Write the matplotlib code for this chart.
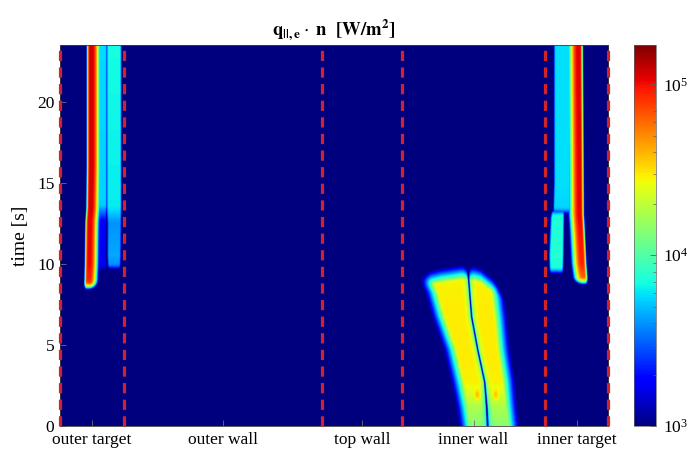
import numpy as np
import matplotlib
matplotlib.use("Agg")
import matplotlib.pyplot as plt
from matplotlib.colors import LogNorm
from matplotlib.ticker import LogLocator, NullFormatter

plt.rcParams['font.family'] = ['Liberation Serif', 'DejaVu Serif']
plt.rcParams['mathtext.fontset'] = 'stix'

# ---------------------------------------------------------------- data
# wall segments along the poloidal contour (cell index)
segment_edges = [0, 64, 262, 342, 485, 548]
segment_names = ["outer target", "outer wall", "top wall", "inner wall", "inner target"]
t_max = 23.5
time_ticks = [0, 5, 10, 15, 20]
q_min, q_max = 1e3, 1.7e5

# outer target strike point: centre cell and log10(q) vs time
ot_peak_t = [8.4, 9.0, 10.0, 12.0, 12.6, 13.4, 16.0, 23.5]
ot_peak_s = [27.5, 28.3, 28.8, 29.2, 29.4, 30.3, 30.8, 30.8]
ot_peak_log = [4.7, 4.95, 5.02, 5.03, 5.03, 5.06, 5.07, 5.07]

# outer target: region between strike point and far SOL lobe
ot_mid_t = [9.3, 12.6, 13.6, 23.5]
ot_mid_left = [35.0, 35.0, 35.0, 35.0]
ot_mid_right = [48.0, 48.0, 48.0, 48.0]
ot_mid_log = [3.2, 3.25, 3.74, 3.76]

# outer target: far SOL lobe
ot_lobe_t = [9.4, 10.5, 12.5, 13.5, 23.5]
ot_lobe_left = [46.0, 45.5, 45.5, 45.0, 45.0]
ot_lobe_right = [61.5, 62.0, 62.5, 62.5, 62.5]
ot_lobe_log = [3.55, 3.65, 3.6, 3.8, 3.84]

# inner target strike point
it_peak_t = [8.7, 10.0, 12.0, 13.0, 23.5]
it_peak_s = [523.5, 521.5, 520.0, 519.0, 518.0]
it_peak_log = [4.7, 4.95, 5.0, 5.03, 5.05]

# inner target: private-flux side finger (early phase)
it_finger_t = [9.2, 10.5, 12.8, 13.5]
it_finger_left = [487.5, 487.0, 488.5, 490.0]
it_finger_right = [503.5, 504.0, 504.5, 505.0]
it_finger_log = [3.84, 3.88, 3.86, 3.8]

# inner target: broad lobe (late phase)
it_lobe_t = [12.8, 15.0, 23.5]
it_lobe_left = [491.0, 492.0, 492.0]
it_lobe_right = [511.0, 511.0, 511.0]
it_lobe_log = [3.74, 3.77, 3.77]

# inner wall: blob boundaries, separatrix trace and level vs time
iw_t = [0.0, 1.2, 2.7, 4.7, 6.7, 8.2, 9.0, 9.9]
iw_left = [395.0, 393.0, 390.0, 382.5, 371.0, 364.0, 358.0, 357.0]
iw_center = [427.0, 426.0, 424.0, 417.0, 411.0, 409.0, 408.0, 407.0]
iw_right = [462.0, 459.0, 455.0, 450.0, 447.0, 444.0, 444.0, 444.0]
iw_log = [4.15, 4.25, 4.46, 4.47, 4.47, 4.46, 4.45, 4.45]
# upper edge of the inner wall blob vs cell
iw_top_s = [358.0, 380.0, 407.0, 420.0, 430.0, 444.0, 450.0]
iw_top_t = [9.4, 9.75, 10.0, 9.75, 9.25, 8.5, 8.0]
# local maxima near the bottom of the inner wall blob
iw_spot_s = [416.7, 435.0]
iw_spot_t = [1.9, 1.9]
iw_spot_log = [4.68, 4.66]

# ---------------------------------------------------------------- field
s = np.arange(0, segment_edges[-1] + 0.25, 0.25)
t = np.arange(0, t_max + 0.02, 0.02)
S, T = np.meshgrid(s, t)
tc = t[:, None]


def band(t_pts, left_pts, right_pts, log_pts, e_left, e_right,
         t_start, t_edge, top=None, power=2.0):
    """log10(q) of a flat-topped strip whose visible edges are left/right."""
    left = np.interp(tc, t_pts, left_pts)
    right = np.interp(tc, t_pts, right_pts)
    level = np.interp(tc, t_pts, log_pts)
    a_l = np.clip((left - S + e_left) / e_left, 0, None)
    a_r = np.clip((S - right + e_right) / e_right, 0, None)
    a_s = np.maximum(a_l, a_r)
    a_b = np.clip((t_start - T + t_edge) / t_edge, 0, None)
    a2 = a_s ** 2 + a_b ** 2
    if top is not None:
        t_top, top_edge = top
        a_t = np.clip((T - t_top + top_edge) / top_edge, 0, None)
        a2 = a2 + a_t ** 2
    return level - 1.5 * a2 ** (power / 2)


def peak(t_pts, c_pts, log_pts, core, e_left, e_right, t_edge):
    """Narrow strike-point stripe centred on c with a flat core."""
    c = np.asarray(c_pts)
    return band(t_pts, c - core - e_left, c + core + e_right, log_pts,
                e_left, e_right, t_pts[0], t_edge)


layers = [np.full_like(S, 2.5)]

layers.append(peak(ot_peak_t, ot_peak_s, ot_peak_log, 1.2, 3.0, 8.0, 0.5))
layers.append(band(ot_mid_t, ot_mid_left, ot_mid_right, ot_mid_log,
                   3.0, 3.0, ot_mid_t[0], 0.5))
layers.append(band(ot_lobe_t, ot_lobe_left, ot_lobe_right, ot_lobe_log,
                   3.5, 3.0, ot_lobe_t[0], 0.6))

layers.append(peak(it_peak_t, it_peak_s, it_peak_log, 1.0, 9.5, 3.2, 0.5))
layers.append(band(it_finger_t, it_finger_left, it_finger_right, it_finger_log,
                   3.5, 3.0, it_finger_t[0], 0.6, top=(it_finger_t[-1], 0.6)))
layers.append(band(it_lobe_t, it_lobe_left, it_lobe_right, it_lobe_log,
                   3.0, 3.0, it_lobe_t[0], 0.7))

top_of_blob = np.interp(S, iw_top_s, iw_top_t)
blob = band(iw_t, iw_left, iw_right, iw_log, 14.0, 14.0, -5.0, 0.5,
            top=(top_of_blob, 1.0), power=1.0)
d_sep = S - np.interp(tc, iw_t, iw_center)
blob -= 1.2 * np.exp(-(d_sep / 0.8) ** 2) + 0.35 * np.exp(-(d_sep / 3.5) ** 2)
for ss, ts, ls in zip(iw_spot_s, iw_spot_t, iw_spot_log):
    bump = np.exp(-((S - ss) / 3.0) ** 2 - ((T - ts) / 0.3) ** 2)
    blob = blob + (ls - 4.44) * bump
layers.append(blob)

q = 10 ** np.max(layers, axis=0)

# ---------------------------------------------------------------- figure
fig = plt.figure(figsize=(6.93, 4.57), dpi=100)
ax = fig.add_axes([0.0866, 0.0678, 0.7908, 0.8337])
cax = fig.add_axes([0.915, 0.0678, 0.032, 0.8337])

im = ax.imshow(q, origin='lower', aspect='auto', cmap='jet',
               norm=LogNorm(vmin=q_min, vmax=q_max),
               extent=[segment_edges[0], segment_edges[-1], 0, t_max],
               interpolation='antialiased')

for xb in segment_edges:
    ax.axvline(xb, color='#d2232a', lw=2.3, ls=(0, (3.2, 2.0)),
               clip_on=False, zorder=3)

centers = [(a + b) / 2 for a, b in zip(segment_edges[:-1], segment_edges[1:])]
ax.set_xticks(centers)
ax.set_xticklabels(segment_names)
ax.set_yticks(time_ticks)
ax.set_xlim(segment_edges[0], segment_edges[-1])
ax.set_ylim(0, t_max)
ax.tick_params(direction='in', length=4, width=0.6, color='#707070',
               labelsize=12.5, pad=4)
for sp in ax.spines.values():
    sp.set_color('#404040')
    sp.set_linewidth(0.6)

ax.set_ylabel('time [s]', fontsize=14, labelpad=6)
ax.set_title(r'$\mathbf{q}_{\mathbf{||,e}}\cdot\ \mathbf{n}\ \ \mathbf{[W/m^2]}$',
             fontsize=13.5, pad=7)

cb = fig.colorbar(im, cax=cax)
cb.outline.set_linewidth(0.5)
cb.outline.set_edgecolor('#606060')
cax.yaxis.set_major_locator(LogLocator(base=10, numticks=10))
cax.yaxis.set_minor_locator(LogLocator(base=10, subs=np.arange(2, 10), numticks=20))
cax.yaxis.set_minor_formatter(NullFormatter())
cax.tick_params(which='major', direction='in', length=4, width=0.6,
                color='#606060', labelsize=12.5, pad=5)
cax.tick_params(which='minor', direction='in', length=2, width=0.5,
                color='#606060')

fig.savefig('out.png', dpi=100)
